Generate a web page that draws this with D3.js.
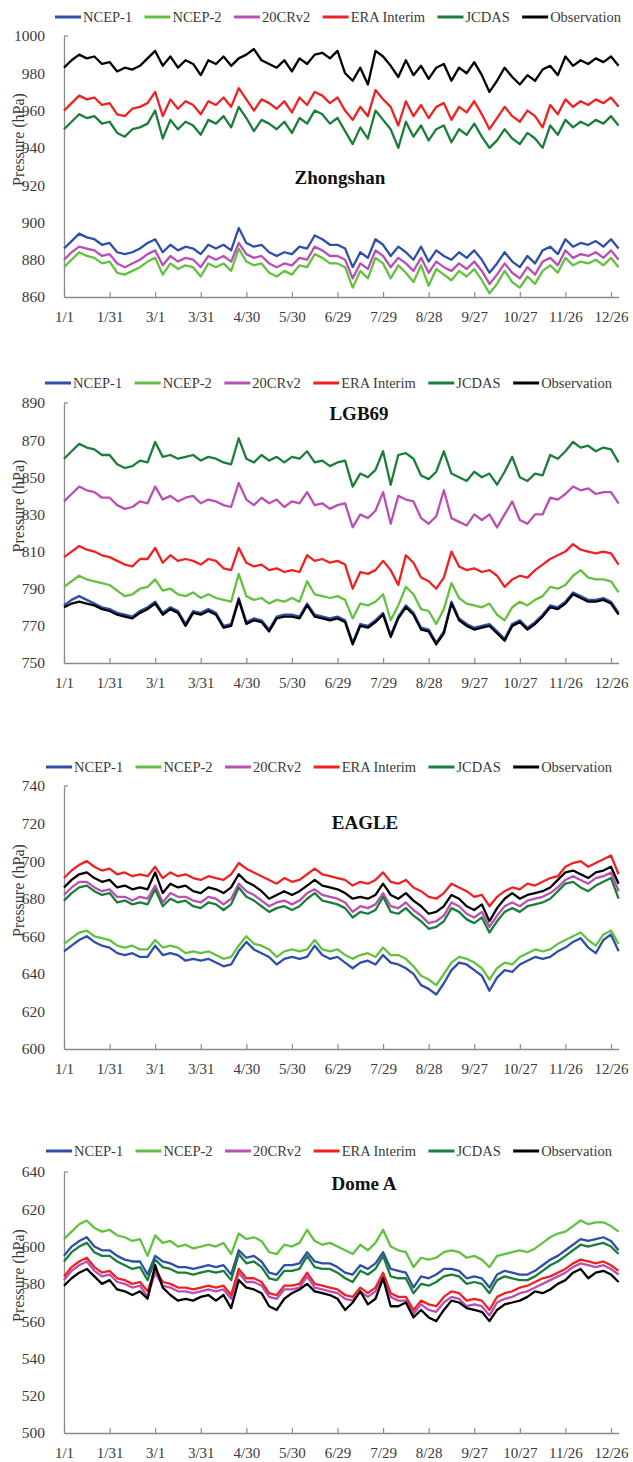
<!DOCTYPE html>
<html><head><meta charset="utf-8">
<script src="https://cdn.jsdelivr.net/npm/d3@7"></script>
<style>body{margin:0;background:#fff} svg{display:block}</style>
</head><body>
<svg id="c" width="633" height="1462"></svg>
<script>
// ---------- categories (day of year, every 5th day) ----------
const days = [0,5,10,15,20,25,30,35,40,45,50,55,60,65,70,75,80,85,90,95,100,105,110,115,120,125,130,135,140,145,150,155,160,165,170,175,180,185,190,195,200,205,210,215,220,225,230,235,240,245,250,255,260,265,270,275,280,285,290,295,300,305,310,315,320,325,330,335,340,345,350,355,360,365];
const tickDays = [0,30,60,90,120,150,180,210,240,270,300,330,360];
const tickLabels = ["1/1","1/31","3/1","3/31","4/30","5/30","6/29","7/29","8/28","9/27","10/27","11/26","12/26"];
const seriesNames = ["NCEP-1","NCEP-2","20CRv2","ERA Interim","JCDAS","Observation"];
const seriesColors = ["#2f4ea8","#63c040","#b94fb3","#ee2222","#1b7d3a","#000000"];

// ---------- Zhongshan ----------
const zsTicks = [860,880,900,920,940,960,980,1000];
const zsNCEP1 = [886,890,894,892,891,888,889,884,883,884, 886,889,891,884,888,885,887,886,883,888, 886,888,885,897,889,887,888,884,882,884, 883,887,886,893,891,888,888,886,876,884, 881,891,888,882,887,884,880,887,879,885, 882,880,884,881,885,880,873,878,884,879, 876,882,878,885,887,883,891,887,889,888, 890,887,891,886];
const zsNCEP2 = [876,880,884,882,881,878,879,873,872,874, 876,879,881,872,878,875,877,876,871,878, 876,878,874,886,879,877,878,873,871,874, 872,877,876,883,881,878,878,876,865,874, 870,881,878,870,877,873,868,877,866,875, 872,869,874,871,875,869,862,867,874,868, 865,871,867,874,877,873,881,877,879,878, 880,877,881,876];
const zs20CR = [880,884,887,886,885,882,883,878,876,878, 880,883,885,877,882,879,881,880,876,882, 880,882,879,889,883,881,882,878,876,878, 877,881,880,887,885,882,882,880,870,878, 875,885,882,876,881,878,874,881,873,879, 876,874,878,875,879,874,867,872,878,873, 870,876,872,879,881,877,885,881,883,882, 884,881,885,880];
const zsERA = [960,964,968,966,967,963,964,958,957,961, 962,964,970,957,966,961,965,963,958,965, 963,967,962,972,966,960,966,964,961,965, 959,967,963,970,968,964,967,960,955,962, 957,971,966,962,952,965,957,963,956,962, 964,955,962,959,965,958,950,956,962,957, 954,960,957,951,963,958,966,962,965,963, 966,964,967,962];
const zsJCDAS = [950,954,958,956,957,953,954,948,946,950, 951,953,960,945,955,950,954,952,947,955, 953,957,951,962,956,949,955,953,950,954, 948,956,953,960,958,953,956,949,942,951, 945,960,955,950,940,954,946,952,944,950, 952,943,950,947,953,946,940,944,950,945, 942,948,945,940,952,947,955,951,954,952, 955,953,957,952];
const zsObs = [983,987,990,988,989,985,986,981,983,982, 984,988,992,984,989,983,987,985,979,987, 985,989,984,988,990,993,987,985,983,987, 981,988,985,990,991,988,992,980,976,983, 974,992,989,984,978,987,979,984,977,983, 985,976,983,980,986,979,970,976,983,978, 974,979,976,982,984,979,989,984,987,985, 988,986,989,984];

// ---------- LGB69 ----------
const lgTicks = [750,770,790,810,830,850,870,890];
const lgNCEP1 = [781,784,786,784,782,780,779,777,776,775, 778,780,783,777,780,778,771,778,777,779, 777,770,771,785,772,774,773,768,775,776, 776,775,782,776,775,774,775,773,761,771, 770,773,777,765,775,781,777,769,768,761, 767,783,774,771,769,770,771,767,763,771, 773,769,772,776,781,780,783,788,786,784, 784,785,783,777];
const lgNCEP2 = [791,794,797,795,794,793,792,789,786,787, 790,791,795,789,790,787,786,788,785,787, 785,784,783,798,786,784,785,782,784,783, 785,783,794,787,786,785,786,784,774,782, 781,783,787,773,781,791,787,779,778,771, 779,793,785,782,781,780,782,776,773,780, 783,781,784,786,791,790,792,797,800,796, 795,795,794,788];
const lg20CR = [837,841,845,843,842,839,839,835,833,834, 837,836,845,838,840,837,839,840,836,838, 837,835,834,847,838,835,839,836,838,834, 837,836,842,835,836,833,835,836,823,830, 828,832,842,825,840,838,837,828,825,829, 843,828,826,824,830,827,830,823,830,837, 827,825,830,830,839,838,841,845,843,844, 841,842,842,836];
const lgERA = [807,810,813,811,810,808,807,805,803,802, 806,806,812,804,808,805,806,805,803,806, 805,801,800,812,804,802,803,800,801,799, 800,799,808,805,806,804,805,803,790,799, 798,800,805,800,792,808,804,796,794,790, 796,810,802,800,801,799,800,797,791,795, 797,796,800,803,806,808,810,814,811,810, 809,810,809,803];
const lgJCDAS = [860,864,868,866,865,862,862,857,855,856, 859,858,869,861,862,860,861,862,859,861, 860,858,857,871,860,858,862,859,861,858, 861,860,864,858,859,856,858,859,845,852, 850,854,864,846,862,863,860,851,849,853, 864,852,850,848,853,850,852,846,853,861, 850,848,852,851,862,860,864,869,866,867, 864,866,865,858];
const lgObs = [780,782,783,782,781,779,778,776,775,774, 777,779,782,776,779,777,770,777,776,778, 776,769,770,784,771,773,772,767,774,775, 775,774,781,775,774,773,774,772,760,770, 769,772,776,764,774,780,776,768,767,760, 766,782,773,770,768,769,770,766,762,770, 772,768,771,775,780,779,782,787,785,783, 783,784,782,776];

// ---------- EAGLE ----------
const egTicks = [600,620,640,660,680,700,720,740];
const egNCEP1 = [652,655,658,660,657,655,654,651,650,651, 649,649,655,650,651,650,647,648,647,648, 646,644,645,652,657,653,651,649,645,648, 649,648,649,655,650,648,649,646,643,646, 647,645,650,646,645,643,640,634,632,629, 635,642,646,645,642,639,631,638,642,641, 645,647,649,648,649,652,654,657,659,654, 651,658,661,652];
const egNCEP2 = [656,659,662,663,660,659,658,655,654,655, 653,653,658,654,655,654,651,652,651,652, 650,648,649,655,660,656,655,653,649,652, 653,652,653,658,653,652,653,650,648,650, 651,649,654,650,650,648,644,639,637,634, 640,646,649,648,646,643,637,643,646,645, 649,651,653,652,653,656,658,660,662,658, 655,661,663,656];
const eg20CR = [682,686,689,689,686,684,685,681,681,679, 681,680,687,678,683,681,681,679,678,681, 680,677,680,688,684,682,679,676,678,679, 677,679,683,685,682,681,680,678,673,676, 675,677,683,676,675,678,674,671,667,668, 671,678,676,672,670,673,665,671,676,678, 676,679,680,681,683,686,690,692,690,688, 691,692,694,684];
const egERA = [691,695,698,700,697,695,696,693,694,692, 693,692,697,691,694,692,693,691,690,692, 691,690,693,699,696,694,692,690,688,691, 689,690,693,696,693,692,691,690,687,689, 688,690,694,689,688,690,686,684,681,680, 683,688,686,684,681,682,676,681,684,686, 685,688,687,689,691,692,697,699,700,697, 699,701,703,693];
const egJCDAS = [679,683,686,687,684,682,683,678,679,677, 678,677,685,676,680,678,679,676,675,678, 677,674,677,686,681,679,676,673,675,676, 674,676,680,683,679,678,677,675,670,673, 672,674,681,673,672,675,671,668,664,665, 668,675,673,669,667,670,662,668,673,675, 673,676,677,678,680,684,688,689,686,684, 687,689,691,680];
const egObs = [686,690,693,694,691,689,690,686,687,685, 686,685,694,683,688,686,687,684,683,686, 685,683,686,693,689,687,684,680,682,684, 682,684,687,690,687,686,685,683,680,681, 680,682,688,682,680,683,679,676,672,673, 676,682,680,676,674,677,668,675,680,683, 680,682,683,684,686,690,694,695,693,691, 694,695,697,688];

// ---------- Dome A ----------
const daTicks = [500,520,540,560,580,600,620,640];
const daNCEP1 = [595,600,603,605,600,598,598,595,593,592, 592,585,595,592,591,589,589,588,589,590, 589,590,585,598,594,595,592,586,585,590, 590,591,597,592,591,591,589,586,585,590, 588,591,597,588,587,586,578,584,583,585, 588,588,587,583,584,583,578,585,587,586, 585,585,587,590,593,595,598,601,604,603, 604,605,603,598];
const daNCEP2 = [604,608,612,614,610,608,609,606,605,603, 604,595,606,602,603,600,601,599,600,601, 600,602,596,607,604,605,603,597,596,601, 600,602,609,603,601,602,600,598,596,601, 598,602,609,600,598,597,589,594,593,594, 597,598,597,594,595,593,589,595,596,597, 598,597,599,602,605,607,608,611,614,612, 613,613,611,608];
const da20CR = [582,587,590,592,587,584,585,581,580,578, 579,573,586,579,578,576,576,575,576,577, 576,577,572,586,581,581,579,573,572,577, 577,578,584,578,577,576,575,572,571,576, 573,576,584,573,571,571,564,569,566,565, 570,573,572,568,569,568,563,570,572,573, 575,576,578,580,582,584,586,589,591,590, 589,590,588,585];
const daERA = [584,589,592,594,589,586,587,583,582,580, 581,576,588,581,580,578,578,577,578,579, 578,579,574,588,583,583,581,575,574,579, 579,580,586,580,579,578,577,574,573,578, 575,578,586,575,573,573,566,571,569,568, 573,576,575,571,572,571,566,573,575,576, 578,579,581,583,584,586,588,591,593,592, 591,592,590,587];
const daJCDAS = [592,597,600,602,597,595,595,592,590,588, 589,582,593,589,588,586,586,585,586,587, 586,587,582,596,591,592,589,583,582,587, 587,588,595,589,588,588,586,583,581,587, 585,588,595,584,583,583,575,580,579,581, 584,585,584,580,581,580,575,582,584,583, 582,582,584,587,590,592,595,598,601,600, 601,602,600,596];
const daObs = [579,583,586,588,584,580,582,577,576,574, 576,572,590,578,574,571,572,571,573,574, 571,574,567,582,578,577,575,568,566,572, 575,577,580,576,575,574,572,566,570,576, 569,572,583,568,568,570,562,566,562,560, 566,571,570,567,566,565,560,566,569,570, 571,573,576,575,577,580,582,586,588,583, 586,587,585,581];

// ---------- layout ----------
const panels = [
  {title:"Zhongshan", ticks:zsTicks, series:[zsNCEP1,zsNCEP2,zs20CR,zsERA,zsJCDAS,zsObs],
   top:36, bottom:297, legendY:17, lx0:55, lx1:621, tx:340, ty:177},
  {title:"LGB69", ticks:lgTicks, series:[lgNCEP1,lgNCEP2,lg20CR,lgERA,lgJCDAS,lgObs],
   top:403, bottom:663, legendY:383, lx0:45, lx1:612, tx:359, ty:413},
  {title:"EAGLE", ticks:egTicks, series:[egNCEP1,egNCEP2,eg20CR,egERA,egJCDAS,egObs],
   top:786, bottom:1049, legendY:767, lx0:46, lx1:612, tx:365, ty:822},
  {title:"Dome A", ticks:daTicks, series:[daNCEP1,daNCEP2,da20CR,daERA,daJCDAS,daObs],
   top:1172, bottom:1433, legendY:1151, lx0:46, lx1:612, tx:364, ty:1183}
];

const FONT = "'Liberation Serif','Times New Roman',serif";
const AXIS = "#8a8a8a";
const svg = d3.select("#c");
const x = d3.scaleLinear().domain([0,365]).range([64,618.6]);

panels.forEach(p => {
  const g = svg.append("g");
  const y = d3.scaleLinear().domain([p.ticks[0], p.ticks[p.ticks.length-1]]).range([p.bottom, p.top]);

  // y axis
  const ya = g.append("g").attr("transform",`translate(${x(0)},0)`)
    .call(d3.axisLeft(y).tickValues(p.ticks).tickSize(0).tickSizeOuter(0).tickPadding(19).tickFormat(d3.format("d")));
  ya.select(".domain").attr("stroke",AXIS).attr("stroke-width",1.3);
  ya.selectAll("text").attr("font-family",FONT).attr("font-size",15.5).attr("fill","#3a3a3a");
  g.append("line").attr("x1",x(0)).attr("x2",x(0)+4).attr("y1",p.top).attr("y2",p.top)
    .attr("stroke",AXIS).attr("stroke-width",1.3);

  // x axis
  const xa = g.append("g").attr("transform",`translate(0,${p.bottom})`)
    .call(d3.axisBottom(x).tickValues(tickDays).tickSize(-5).tickSizeOuter(0).tickPadding(14)
      .tickFormat((d,i)=>tickLabels[i]));
  xa.select(".domain").attr("stroke",AXIS).attr("stroke-width",1.3);
  xa.selectAll(".tick line").attr("stroke",AXIS).attr("stroke-width",1.2);
  xa.selectAll("text").attr("font-family",FONT).attr("font-size",15).attr("fill","#3a3a3a");

  // series lines
  const line = d3.line().x((d,i)=>x(days[i])).y(d=>y(d));
  p.series.forEach((s,k) => {
    g.append("path").datum(s).attr("d",line).attr("fill","none")
      .attr("stroke",seriesColors[k]).attr("stroke-width",2.3).attr("stroke-linejoin","round");
  });

  // title
  g.append("text").attr("x",p.tx).attr("y",p.ty).attr("text-anchor","middle")
    .attr("dominant-baseline","central").attr("font-family",FONT).attr("font-weight","bold")
    .attr("font-size",19).attr("fill","#111").text(p.title);

  // y axis title
  const cy = (p.top+p.bottom)/2 - 27;
  g.append("text").attr("transform",`translate(18,${cy}) rotate(-90)`).attr("text-anchor","middle")
    .attr("dominant-baseline","central").attr("font-family",FONT).attr("font-size",16)
    .attr("fill","#3a3a3a").text("Pressure (hPa)");

  // legend
  const lg = g.append("g");
  const items = seriesNames.map((n,k) => {
    const it = lg.append("g");
    it.append("line").attr("x1",0).attr("x2",26).attr("y1",0).attr("y2",0)
      .attr("stroke",seriesColors[k]).attr("stroke-width",3);
    const t = it.append("text").attr("x",28).attr("y",0).attr("dominant-baseline","central")
      .attr("font-family",FONT).attr("font-size",14.5).attr("fill","#3a3a3a").text(n);
    return {it, w: 28 + t.node().getComputedTextLength()};
  });
  const total = d3.sum(items, d=>d.w);
  const gap = (p.lx1 - p.lx0 - total) / (items.length - 1);
  let cx = p.lx0;
  items.forEach(d => { d.it.attr("transform",`translate(${cx},${p.legendY})`); cx += d.w + gap; });
});
</script>
</body></html>
